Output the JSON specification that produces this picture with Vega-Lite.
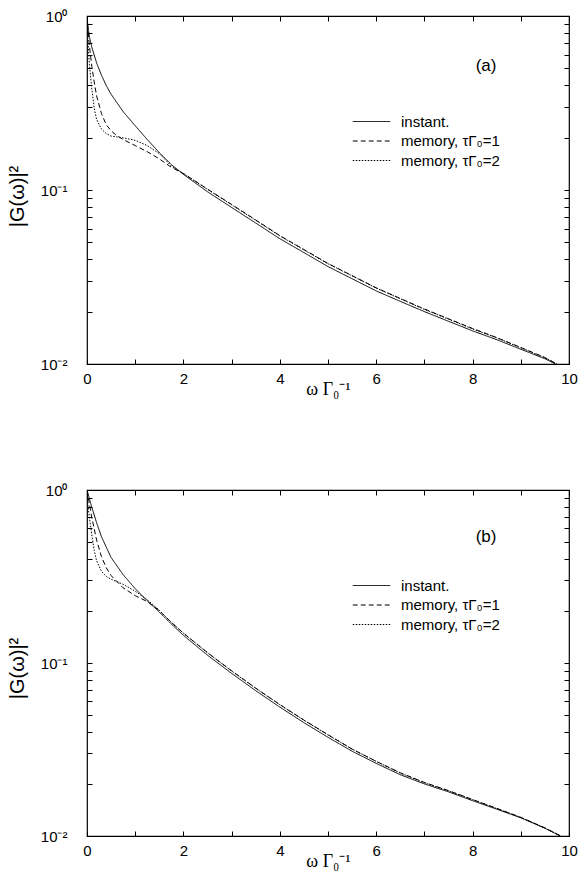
{
  "$schema": "https://vega.github.io/schema/vega-lite/v6.json",
  "background": "white",
  "padding": {"left": 6, "top": 8, "right": 0, "bottom": 0},
  "config": {
    "font": "Liberation Sans",
    "view": {"stroke": "black", "strokeWidth": 1.2},
    "axis": {"grid": false, "domain": false, "tickColor": "black", "tickWidth": 1, "labelColor": "black", "titleColor": "black", "titleFontWeight": "normal"}
  },
  "datasets": {
    "curves": [
      {"p":"a","s":"i","x":0,"y":0.99},{"p":"a","s":"i","x":0.02,"y":0.871},{"p":"a","s":"i","x":0.05,"y":0.759},{"p":"a","s":"i","x":0.1,"y":0.661},{"p":"a","s":"i","x":0.2,"y":0.537},{"p":"a","s":"i","x":0.3,"y":0.457},{"p":"a","s":"i","x":0.4,"y":0.398},{"p":"a","s":"i","x":0.5,"y":0.355},{"p":"a","s":"i","x":0.75,"y":0.282},{"p":"a","s":"i","x":1,"y":0.234},{"p":"a","s":"i","x":1.25,"y":0.195},{"p":"a","s":"i","x":1.5,"y":0.164},{"p":"a","s":"i","x":1.75,"y":0.14},{"p":"a","s":"i","x":2,"y":0.123},{"p":"a","s":"i","x":2.5,"y":0.0977},{"p":"a","s":"i","x":3,"y":0.0794},{"p":"a","s":"i","x":3.5,"y":0.0646},{"p":"a","s":"i","x":4,"y":0.0525},{"p":"a","s":"i","x":4.5,"y":0.0437},{"p":"a","s":"i","x":5,"y":0.0363},{"p":"a","s":"i","x":5.5,"y":0.0309},{"p":"a","s":"i","x":6,"y":0.0263},{"p":"a","s":"i","x":6.5,"y":0.0229},{"p":"a","s":"i","x":7,"y":0.02},{"p":"a","s":"i","x":7.5,"y":0.0176},{"p":"a","s":"i","x":8,"y":0.0155},{"p":"a","s":"i","x":8.5,"y":0.0138},{"p":"a","s":"i","x":9,"y":0.01216},{"p":"a","s":"i","x":9.5,"y":0.01072},{"p":"a","s":"i","x":9.72,"y":0.01},
      {"p":"a","s":"m1","x":0,"y":1},{"p":"a","s":"m1","x":0.02,"y":0.832},{"p":"a","s":"m1","x":0.05,"y":0.676},{"p":"a","s":"m1","x":0.1,"y":0.513},{"p":"a","s":"m1","x":0.15,"y":0.417},{"p":"a","s":"m1","x":0.2,"y":0.347},{"p":"a","s":"m1","x":0.3,"y":0.275},{"p":"a","s":"m1","x":0.4,"y":0.237},{"p":"a","s":"m1","x":0.5,"y":0.219},{"p":"a","s":"m1","x":0.6,"y":0.207},{"p":"a","s":"m1","x":0.75,"y":0.195},{"p":"a","s":"m1","x":1,"y":0.18},{"p":"a","s":"m1","x":1.25,"y":0.166},{"p":"a","s":"m1","x":1.5,"y":0.151},{"p":"a","s":"m1","x":1.75,"y":0.135},{"p":"a","s":"m1","x":2,"y":0.1245},{"p":"a","s":"m1","x":2.5,"y":0.1012},{"p":"a","s":"m1","x":3,"y":0.0826},{"p":"a","s":"m1","x":3.5,"y":0.0673},{"p":"a","s":"m1","x":4,"y":0.0547},{"p":"a","s":"m1","x":4.5,"y":0.0455},{"p":"a","s":"m1","x":5,"y":0.0378},{"p":"a","s":"m1","x":5.5,"y":0.0322},{"p":"a","s":"m1","x":6,"y":0.0274},{"p":"a","s":"m1","x":6.5,"y":0.0238},{"p":"a","s":"m1","x":7,"y":0.0207},{"p":"a","s":"m1","x":7.5,"y":0.0182},{"p":"a","s":"m1","x":8,"y":0.016},{"p":"a","s":"m1","x":8.5,"y":0.01419},{"p":"a","s":"m1","x":9,"y":0.01245},{"p":"a","s":"m1","x":9.5,"y":0.01089},{"p":"a","s":"m1","x":9.75,"y":0.01},
      {"p":"a","s":"m2","x":0,"y":1},{"p":"a","s":"m2","x":0.02,"y":0.708},{"p":"a","s":"m2","x":0.05,"y":0.525},{"p":"a","s":"m2","x":0.1,"y":0.38},{"p":"a","s":"m2","x":0.15,"y":0.295},{"p":"a","s":"m2","x":0.2,"y":0.254},{"p":"a","s":"m2","x":0.3,"y":0.224},{"p":"a","s":"m2","x":0.4,"y":0.211},{"p":"a","s":"m2","x":0.5,"y":0.204},{"p":"a","s":"m2","x":0.75,"y":0.1995},{"p":"a","s":"m2","x":1,"y":0.193},{"p":"a","s":"m2","x":1.25,"y":0.18},{"p":"a","s":"m2","x":1.5,"y":0.162},{"p":"a","s":"m2","x":1.75,"y":0.1374},{"p":"a","s":"m2","x":2,"y":0.1242},{"p":"a","s":"m2","x":2.5,"y":0.1009},{"p":"a","s":"m2","x":3,"y":0.0822},{"p":"a","s":"m2","x":3.5,"y":0.067},{"p":"a","s":"m2","x":4,"y":0.0545},{"p":"a","s":"m2","x":4.5,"y":0.0453},{"p":"a","s":"m2","x":5,"y":0.0377},{"p":"a","s":"m2","x":5.5,"y":0.0321},{"p":"a","s":"m2","x":6,"y":0.0273},{"p":"a","s":"m2","x":6.5,"y":0.0237},{"p":"a","s":"m2","x":7,"y":0.0206},{"p":"a","s":"m2","x":7.5,"y":0.0181},{"p":"a","s":"m2","x":8,"y":0.0159},{"p":"a","s":"m2","x":8.5,"y":0.01413},{"p":"a","s":"m2","x":9,"y":0.01239},{"p":"a","s":"m2","x":9.5,"y":0.01086},{"p":"a","s":"m2","x":9.75,"y":0.01},
      {"p":"b","s":"i","x":0,"y":1},{"p":"b","s":"i","x":0.05,"y":0.891},{"p":"b","s":"i","x":0.1,"y":0.794},{"p":"b","s":"i","x":0.2,"y":0.646},{"p":"b","s":"i","x":0.3,"y":0.537},{"p":"b","s":"i","x":0.5,"y":0.407},{"p":"b","s":"i","x":0.75,"y":0.324},{"p":"b","s":"i","x":1,"y":0.269},{"p":"b","s":"i","x":1.25,"y":0.229},{"p":"b","s":"i","x":1.5,"y":0.197},{"p":"b","s":"i","x":1.75,"y":0.168},{"p":"b","s":"i","x":2,"y":0.1445},{"p":"b","s":"i","x":2.5,"y":0.1109},{"p":"b","s":"i","x":3,"y":0.0871},{"p":"b","s":"i","x":3.5,"y":0.0692},{"p":"b","s":"i","x":4,"y":0.0556},{"p":"b","s":"i","x":4.5,"y":0.0452},{"p":"b","s":"i","x":5,"y":0.0372},{"p":"b","s":"i","x":5.5,"y":0.0309},{"p":"b","s":"i","x":6,"y":0.0263},{"p":"b","s":"i","x":6.5,"y":0.0226},{"p":"b","s":"i","x":7,"y":0.02},{"p":"b","s":"i","x":7.5,"y":0.018},{"p":"b","s":"i","x":8,"y":0.016},{"p":"b","s":"i","x":8.5,"y":0.01429},{"p":"b","s":"i","x":9,"y":0.01274},{"p":"b","s":"i","x":9.5,"y":0.01109},{"p":"b","s":"i","x":9.82,"y":0.01},
      {"p":"b","s":"m1","x":0,"y":1},{"p":"b","s":"m1","x":0.05,"y":0.832},{"p":"b","s":"m1","x":0.1,"y":0.692},{"p":"b","s":"m1","x":0.2,"y":0.513},{"p":"b","s":"m1","x":0.3,"y":0.412},{"p":"b","s":"m1","x":0.4,"y":0.355},{"p":"b","s":"m1","x":0.5,"y":0.32},{"p":"b","s":"m1","x":0.75,"y":0.272},{"p":"b","s":"m1","x":1,"y":0.245},{"p":"b","s":"m1","x":1.25,"y":0.2265},{"p":"b","s":"m1","x":1.5,"y":0.201},{"p":"b","s":"m1","x":1.75,"y":0.1718},{"p":"b","s":"m1","x":2,"y":0.1489},{"p":"b","s":"m1","x":2.5,"y":0.1148},{"p":"b","s":"m1","x":3,"y":0.0902},{"p":"b","s":"m1","x":3.5,"y":0.0716},{"p":"b","s":"m1","x":4,"y":0.0575},{"p":"b","s":"m1","x":4.5,"y":0.0468},{"p":"b","s":"m1","x":5,"y":0.0385},{"p":"b","s":"m1","x":5.5,"y":0.0318},{"p":"b","s":"m1","x":6,"y":0.027},{"p":"b","s":"m1","x":6.5,"y":0.0232},{"p":"b","s":"m1","x":7,"y":0.0204},{"p":"b","s":"m1","x":7.5,"y":0.0183},{"p":"b","s":"m1","x":8,"y":0.01626},{"p":"b","s":"m1","x":8.5,"y":0.01445},{"p":"b","s":"m1","x":9,"y":0.01282},{"p":"b","s":"m1","x":9.5,"y":0.01114},{"p":"b","s":"m1","x":9.83,"y":0.01},
      {"p":"b","s":"m2","x":0,"y":1},{"p":"b","s":"m2","x":0.02,"y":0.813},{"p":"b","s":"m2","x":0.05,"y":0.692},{"p":"b","s":"m2","x":0.1,"y":0.55},{"p":"b","s":"m2","x":0.15,"y":0.447},{"p":"b","s":"m2","x":0.2,"y":0.389},{"p":"b","s":"m2","x":0.3,"y":0.339},{"p":"b","s":"m2","x":0.4,"y":0.316},{"p":"b","s":"m2","x":0.5,"y":0.305},{"p":"b","s":"m2","x":0.75,"y":0.285},{"p":"b","s":"m2","x":1,"y":0.26},{"p":"b","s":"m2","x":1.25,"y":0.232},{"p":"b","s":"m2","x":1.5,"y":0.2018},{"p":"b","s":"m2","x":1.75,"y":0.1718},{"p":"b","s":"m2","x":2,"y":0.1486},{"p":"b","s":"m2","x":2.5,"y":0.1146},{"p":"b","s":"m2","x":3,"y":0.0899},{"p":"b","s":"m2","x":3.5,"y":0.0714},{"p":"b","s":"m2","x":4,"y":0.0574},{"p":"b","s":"m2","x":4.5,"y":0.0467},{"p":"b","s":"m2","x":5,"y":0.0384},{"p":"b","s":"m2","x":5.5,"y":0.0318},{"p":"b","s":"m2","x":6,"y":0.027},{"p":"b","s":"m2","x":6.5,"y":0.0231},{"p":"b","s":"m2","x":7,"y":0.0203},{"p":"b","s":"m2","x":7.5,"y":0.01824},{"p":"b","s":"m2","x":8,"y":0.01622},{"p":"b","s":"m2","x":8.5,"y":0.01442},{"p":"b","s":"m2","x":9,"y":0.0128},{"p":"b","s":"m2","x":9.5,"y":0.01112},{"p":"b","s":"m2","x":9.83,"y":0.01}
    ],
    "labels": [
      {"p":"a","x":8.28,"y":0.516,"t":"(a)"},
      {"p":"b","x":8.28,"y":0.535,"t":"(b)"}
    ]
  },
  "vconcat": [
    {
      "width": 482, "height": 348,
      "layer": [
        {
          "data": {"name": "curves"},
          "transform": [{"filter": "datum.p == 'a'"}],
          "mark": {"type": "line", "color": "black", "strokeWidth": 1, "clip": true},
          "encoding": {
            "x": {"field": "x", "type": "quantitative", "scale": {"domain": [0, 10], "nice": false, "zero": false},
              "axis": {"orient": "bottom", "values": [0,1,2,3,4,5,6,7,8,9,10], "labelExpr": "datum.value % 2 == 0 ? datum.label : ''", "tickSize": -5, "labelFontSize": 15, "labelPadding": 12, "labelFlush": false, "title": "ω Γ₀⁻¹", "titleFont": "Liberation Serif", "titleFontSize": 18, "titlePadding": -6}},
            "y": {"field": "y", "type": "quantitative", "scale": {"type": "log", "domain": [0.01, 1], "nice": false},
              "axis": {"orient": "left", "values": [0.01,0.02,0.03,0.04,0.05,0.06,0.07,0.08,0.09,0.1,0.2,0.3,0.4,0.5,0.6,0.7,0.8,0.9,1], "labelExpr": "datum.value == 1 ? '10⁰' : (datum.value == 0.1 ? '10⁻¹' : (datum.value == 0.01 ? '10⁻²' : ''))", "tickSize": -5, "labelFontSize": 15, "labelPadding": 25, "labelFlush": false, "title": "|G(ω)|²", "titleFontSize": 20, "titleX": -70, "titleY": 180, "titleAngle": -90, "titleAlign": "center", "titleBaseline": "middle"}},
            "strokeDash": {"field": "s", "type": "nominal", "scale": {"domain": ["i", "m1", "m2"], "range": [[1, 0], [5, 3], [1.5, 1.5]]},
              "legend": {"orient": "none", "legendX": 276.5, "legendY": 97.5, "title": null, "symbolType": "M-2.5,0L2.5,0", "symbolSize": 225, "symbolFillColor": "transparent", "symbolStrokeColor": "black", "symbolStrokeWidth": 1, "labelFontSize": 15, "labelColor": "black", "labelOffset": 21.5, "rowPadding": 3.5, "padding": 0,
                "labelExpr": "datum.value == 'i' ? 'instant.' : (datum.value == 'm1' ? 'memory, τΓ₀=1' : 'memory, τΓ₀=2')"}}
          }
        },
        {
          "data": {"name": "labels"},
          "transform": [{"filter": "datum.p == 'a'"}],
          "mark": {"type": "text", "fontSize": 17, "color": "black"},
          "encoding": {
            "x": {"field": "x", "type": "quantitative", "axis": {"orient": "top", "values": [0,1,2,3,4,5,6,7,8,9,10], "labels": false, "title": null, "tickSize": -5}},
            "y": {"field": "y", "type": "quantitative", "axis": {"orient": "right", "values": [0.01,0.02,0.03,0.04,0.05,0.06,0.07,0.08,0.09,0.1,0.2,0.3,0.4,0.5,0.6,0.7,0.8,0.9,1], "labels": false, "title": null, "tickSize": -5}},
            "text": {"field": "t"}
          }
        }
      ],
      "resolve": {"axis": {"x": "independent", "y": "independent"}}
    },
    {
      "width": 482, "height": 346,
      "layer": [
        {
          "data": {"name": "curves"},
          "transform": [{"filter": "datum.p == 'b'"}],
          "mark": {"type": "line", "color": "black", "strokeWidth": 1, "clip": true},
          "encoding": {
            "x": {"field": "x", "type": "quantitative", "scale": {"domain": [0, 10], "nice": false, "zero": false},
              "axis": {"orient": "bottom", "values": [0,1,2,3,4,5,6,7,8,9,10], "labelExpr": "datum.value % 2 == 0 ? datum.label : ''", "tickSize": -5, "labelFontSize": 15, "labelPadding": 12, "labelFlush": false, "title": "ω Γ₀⁻¹", "titleFont": "Liberation Serif", "titleFontSize": 18, "titlePadding": -6}},
            "y": {"field": "y", "type": "quantitative", "scale": {"type": "log", "domain": [0.01, 1], "nice": false},
              "axis": {"orient": "left", "values": [0.01,0.02,0.03,0.04,0.05,0.06,0.07,0.08,0.09,0.1,0.2,0.3,0.4,0.5,0.6,0.7,0.8,0.9,1], "labelExpr": "datum.value == 1 ? '10⁰' : (datum.value == 0.1 ? '10⁻¹' : (datum.value == 0.01 ? '10⁻²' : ''))", "tickSize": -5, "labelFontSize": 15, "labelPadding": 25, "labelFlush": false, "title": "|G(ω)|²", "titleFontSize": 20, "titleX": -70, "titleY": 178, "titleAngle": -90, "titleAlign": "center", "titleBaseline": "middle"}},
            "strokeDash": {"field": "s", "type": "nominal", "scale": {"domain": ["i", "m1", "m2"], "range": [[1, 0], [5, 3], [1.5, 1.5]]},
              "legend": {"orient": "none", "legendX": 276.5, "legendY": 87.5, "title": null, "symbolType": "M-2.5,0L2.5,0", "symbolSize": 225, "symbolFillColor": "transparent", "symbolStrokeColor": "black", "symbolStrokeWidth": 1, "labelFontSize": 15, "labelColor": "black", "labelOffset": 21.5, "rowPadding": 3.5, "padding": 0,
                "labelExpr": "datum.value == 'i' ? 'instant.' : (datum.value == 'm1' ? 'memory, τΓ₀=1' : 'memory, τΓ₀=2')"}}
          }
        },
        {
          "data": {"name": "labels"},
          "transform": [{"filter": "datum.p == 'b'"}],
          "mark": {"type": "text", "fontSize": 17, "color": "black"},
          "encoding": {
            "x": {"field": "x", "type": "quantitative", "axis": {"orient": "top", "values": [0,1,2,3,4,5,6,7,8,9,10], "labels": false, "title": null, "tickSize": -5}},
            "y": {"field": "y", "type": "quantitative", "axis": {"orient": "right", "values": [0.01,0.02,0.03,0.04,0.05,0.06,0.07,0.08,0.09,0.1,0.2,0.3,0.4,0.5,0.6,0.7,0.8,0.9,1], "labels": false, "title": null, "tickSize": -5}},
            "text": {"field": "t"}
          }
        }
      ],
      "resolve": {"axis": {"x": "independent", "y": "independent"}}
    }
  ],
  "spacing": 126,
  "bounds": "flush",
  "resolve": {"scale": {"strokeDash": "independent"}, "legend": {"strokeDash": "independent"}}
}
